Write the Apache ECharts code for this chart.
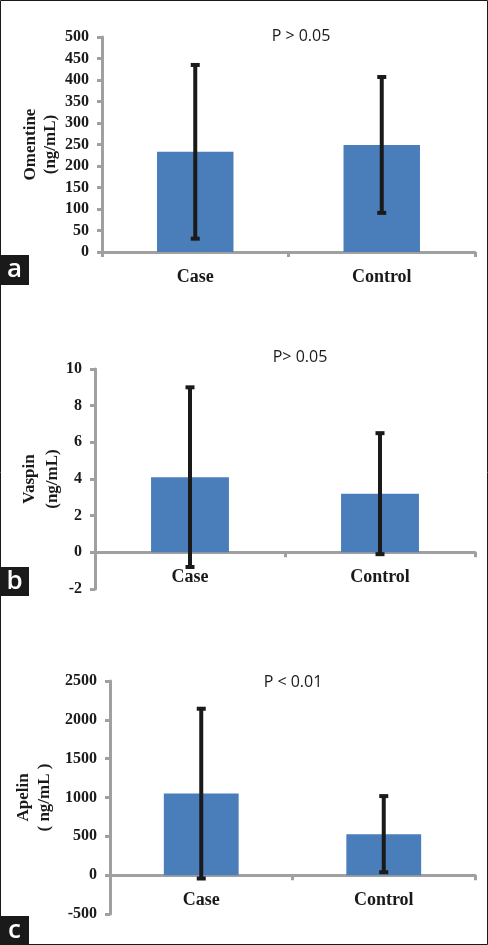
<!DOCTYPE html>
<html>
<head>
<meta charset="utf-8">
<script src="https://cdn.jsdelivr.net/npm/echarts@6/dist/echarts.min.js"></script>
<style>
html,body{margin:0;padding:0;background:#fff;}
#chart{width:488px;height:945px;}
</style>
</head>
<body>
<div id="chart"></div>
<script>
// ---- data ----
var categories = ['Case', 'Control'];
var omentinMean = [233, 249];
var omentinSD = [202, 158];
var vaspinMean = [4.1, 3.2];
var vaspinSD = [4.9, 3.3];
var apelinMean = [1050, 528];
var apelinSD = [1093, 490];
var yMins = [0, -2, -500];
var yMaxs = [500, 10, 2500];
var yIntervals = [50, 2, 500];
var yNames = ['Omentine\n(ng/mL)', 'Vaspin\n(ng/mL)', 'Apelin\n( ng/mL )'];
var pLabels = ['P > 0.05', 'P> 0.05', 'P < 0.01'];
var panelLetters = ['a', 'b', 'c'];

// ---- layout ----
var grids = [
  {left: 102, top: 37, width: 373, height: 215, outerBoundsMode: 'none'},
  {left: 95, top: 369, width: 380, height: 220, outerBoundsMode: 'none'},
  {left: 110, top: 681, width: 365, height: 233, outerBoundsMode: 'none'}
];
var nameGaps = [41, 31, 55];
var nameLineHeights = [20, 23, 21];
var pPos = [[301, 36], [300, 357], [293, 682]];
var letterBoxes = [[0, 255, 29, 30], [0, 567, 29, 29], [0, 916, 29, 29]];

var AXIS = '#a0a0a0';
var BAR = '#4a7ebb';
var SERIF = '"Liberation Serif","Times New Roman",serif';

var means = [omentinMean, vaspinMean, apelinMean];
var sds = [omentinSD, vaspinSD, apelinSD];

var xAxes = [], yAxes = [], series = [], graphics = [];
for (var i = 0; i < 3; i++) {
  var zeroOffset = -grids[i].height * (0 - yMins[i]) / (yMaxs[i] - yMins[i]);
  xAxes.push({
    type: 'category', gridIndex: i, data: categories, boundaryGap: true,
    position: 'bottom', offset: zeroOffset,
    axisLine: {onZero: false, lineStyle: {color: AXIS, width: 3}},
    axisTick: {show: true, inside: false, length: 5, lineStyle: {color: AXIS, width: 3}, interval: 0},
    axisLabel: {color: '#1a1a1a', fontFamily: SERIF, fontWeight: 'bold', fontSize: 18, margin: 16, interval: 0},
    splitLine: {show: false}
  });
  yAxes.push({
    type: 'value', gridIndex: i, min: yMins[i], max: yMaxs[i], interval: yIntervals[i],
    name: yNames[i], nameLocation: 'middle', nameGap: nameGaps[i], nameRotate: 90,
    nameMoveOverlap: false,
    nameTextStyle: {color: '#1a1a1a', fontFamily: SERIF, fontWeight: 'bold', fontSize: 17, lineHeight: nameLineHeights[i]},
    axisLine: {show: true, onZero: false, lineStyle: {color: AXIS, width: 3}},
    axisTick: {show: true, inside: false, length: 5, lineStyle: {color: AXIS, width: 3}},
    axisLabel: {color: '#1a1a1a', fontFamily: SERIF, fontWeight: 'bold', fontSize: 16, margin: 13,
      formatter: function (v) { return String(v); }},
    splitLine: {show: false}
  });
  series.push({
    type: 'bar', xAxisIndex: i, yAxisIndex: i, data: means[i], barWidth: '41%',
    itemStyle: {color: BAR}, silent: true, animation: false
  });
  var eb = [];
  for (var j = 0; j < categories.length; j++) {
    eb.push([j, means[i][j] - sds[i][j], means[i][j] + sds[i][j]]);
  }
  series.push({
    type: 'custom', xAxisIndex: i, yAxisIndex: i, data: eb, silent: true, animation: false,
    encode: {x: 0, y: [1, 2]}, z: 10,
    renderItem: function (params, api) {
      var x = api.value(0);
      var pHi = api.coord([x, api.value(2)]);
      var pLo = api.coord([x, api.value(1)]);
      var w = 9, col = '#1a1a1a';
      return {type: 'group', children: [
        {type: 'line', shape: {x1: pHi[0], y1: pHi[1], x2: pLo[0], y2: pLo[1]}, style: {stroke: col, lineWidth: 4}},
        {type: 'line', shape: {x1: pHi[0] - w / 2, y1: pHi[1], x2: pHi[0] + w / 2, y2: pHi[1]}, style: {stroke: col, lineWidth: 4}},
        {type: 'line', shape: {x1: pLo[0] - w / 2, y1: pLo[1], x2: pLo[0] + w / 2, y2: pLo[1]}, style: {stroke: col, lineWidth: 4}}
      ]};
    }
  });
  graphics.push({
    type: 'text', x: pPos[i][0], y: pPos[i][1],
    style: {text: pLabels[i], fill: '#1a1a1a', font: '16px "Open Sans", sans-serif', textAlign: 'center', textVerticalAlign: 'middle'}
  });
  var b = letterBoxes[i];
  graphics.push({type: 'rect', shape: {x: b[0], y: b[1], width: b[2], height: b[3]}, style: {fill: '#1a1a1a'}});
  graphics.push({
    type: 'text', x: b[0] + b[2] / 2, y: b[1] + b[3] / 2,
    style: {text: panelLetters[i], fill: '#fff', font: '600 26px "Open Sans", sans-serif', textAlign: 'center', textVerticalAlign: 'middle'}
  });
}
graphics.push({type: 'rect', shape: {x: 0.5, y: 0.5, width: 487, height: 944}, style: {fill: 'none', stroke: '#1a1a1a', lineWidth: 1}, z: 100});

var chart = echarts.init(document.getElementById('chart'), null, {renderer: 'canvas'});
chart.setOption({
  animation: false,
  backgroundColor: '#fff',
  grid: grids,
  xAxis: xAxes,
  yAxis: yAxes,
  series: series,
  graphic: graphics
});
</script>
</body>
</html>
